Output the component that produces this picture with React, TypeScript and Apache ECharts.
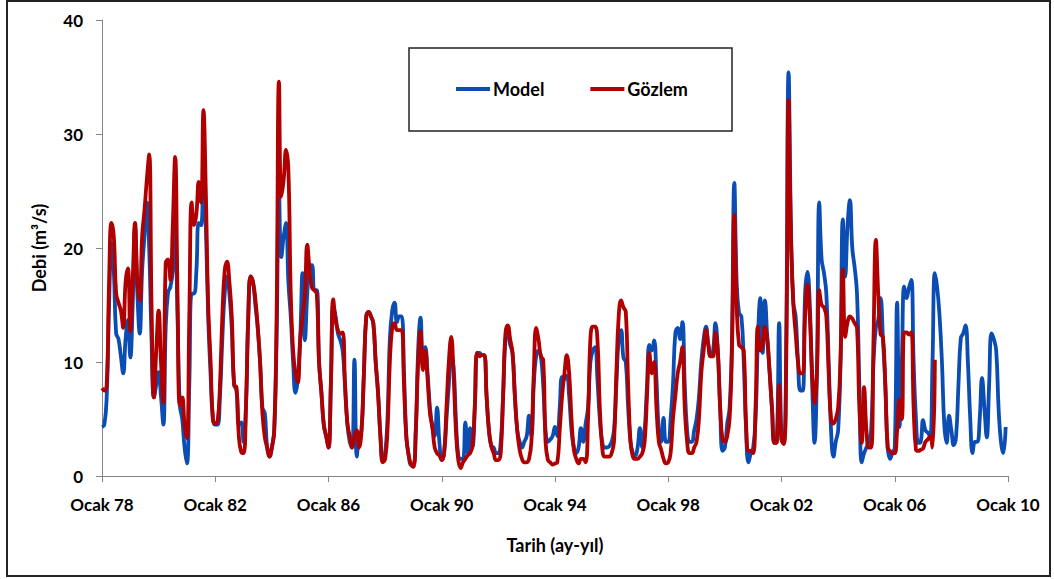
import React, { useEffect, useRef } from "react";
import * as echarts from "echarts";

const tickLabels = ["Ocak 78", "Ocak 82", "Ocak 86", "Ocak 90", "Ocak 94", "Ocak 98", "Ocak 02", "Ocak 06", "Ocak 10"];
const seriesNames = ["Model", "Gözlem"];

// Monthly discharge (m3/s), Jan 1978 onward
const model = [
  4.3, 4.5, 7, 15, 20.4, 18, 12.5, 12, 10.5, 9, 12, 13.7,
  10.4, 15, 21.8, 16, 12.5, 18, 21, 24, 20, 12, 6.9, 8,
  9.1, 7, 4.5, 13, 16.1, 16.6, 18, 21.8, 14, 6.2, 5, 2.5,
  1.1, 8, 16, 16, 18, 22.2, 22, 26.6, 22, 14, 9, 5,
  4.5, 4.5, 7, 12, 16, 17.5, 16, 13, 8, 7.5, 4.5, 4.7,
  3, 6, 14, 17.5, 17, 15, 13, 10, 6, 5.5, 2.5, 1.7,
  2.5, 4, 12, 25, 19.2, 21, 22.2, 17, 14, 10, 7.3, 8.5,
  12, 17.8, 11.9, 16, 18.5, 18.5, 16.3, 16.3, 10, 7.3, 4.5, 3.5,
  2.5, 8, 15, 14, 12.5, 11.9, 11, 8, 4.6, 3, 2.5, 10.2,
  1.7, 3.5, 4, 9, 14, 14.4, 14, 13.4, 10, 7.3, 3.5, 1.5,
  2, 5, 12, 14.5, 15.2, 13.5, 14, 14, 9, 3.4, 1.8, 1.0,
  1, 4, 11, 13.9, 10, 11.3, 9, 6, 4.3, 3.5, 6, 3,
  1.4, 2, 5, 8, 10.5, 9.6, 5, 1.8, 1.5, 1.5, 4.7, 2,
  4.2, 2.5, 6, 10.8, 10.8, 10.6, 10.6, 7, 4, 2.6, 2.5, 2,
  2, 3, 7, 12, 12.5, 11.5, 10.8, 7, 4, 3, 2.5, 3,
  3.5, 5.3, 3.5, 8, 10.5, 11, 10.5, 8, 4, 3, 3.2, 3.5,
  4.3, 3.5, 6, 8.7, 8.5, 8.8, 7, 4, 2.5, 2, 2.5, 4.2,
  3, 4.6, 6, 10, 11, 11.3, 8.4, 5, 3, 2.5, 2.5, 2.6,
  3, 4, 8, 12, 12.8, 10.4, 10, 6, 3, 2, 1.8, 2.5,
  4.2, 2.5, 4, 8, 11.5, 11, 11.9, 8.5, 4, 3, 5.1, 3,
  3, 5, 8, 12.5, 13, 12, 13.5, 8, 4, 3, 3, 4,
  5, 6.9, 10, 12, 13.1, 11.5, 10.5, 11, 13.4, 11, 6, 2.2,
  2.5, 4.6, 6, 12, 25.7, 17, 14.3, 14, 10, 4, 1.2, 2,
  2.5, 5, 12, 15.6, 10.8, 15.4, 12, 9, 5.8, 2.9, 3, 13.4,
  3.2, 3, 12, 35.4, 22, 15.2, 14, 10, 7.5, 7.5, 16, 17.9,
  15, 8, 2.9, 9, 24, 19, 17.8, 16, 10, 4, 1.7, 3,
  4, 10, 22.5, 17.5, 22, 24.2, 20, 18.3, 16, 8, 1.2, 2,
  2.5, 3, 4, 10, 13, 13.7, 15.6, 12, 8, 2.5, 1.5, 2,
  2.5, 15.2, 4.3, 10, 16.6, 15.6, 16.5, 17.2, 10, 5, 2.9, 3,
  4.9, 4, 3.8, 3.5, 10, 17.8, 16.5, 14, 10, 4.5, 2.9, 5.3,
  4, 2.7, 3.5, 8, 12.1, 12.5, 13.2, 10, 5, 2, 3, 3,
  5, 8.6, 6, 3.4, 8, 12.5, 12, 11, 6, 3, 2, 4.3,
];

const observed = [
  7.7, 7.5, 8, 17, 22.2, 21, 16, 15.2, 14.5, 13, 17, 18.2,
  12.7, 17, 22.2, 17, 15.4, 21, 23.3, 26, 28.2, 15, 6.9, 11,
  14.5, 10, 6.4, 18.7, 19, 17.2, 22, 28, 16, 6.2, 6.9, 4.5,
  3.3, 14, 24, 22, 23, 25.8, 24, 32.1, 25, 15, 10.2, 5,
  4.6, 4.8, 8, 14, 18, 18.8, 17, 14, 8, 7.8, 3.5, 2.1,
  2.0, 6, 14, 17.5, 17, 15.5, 13.1, 10, 5.5, 3.4, 2.5, 1.7,
  2.5, 4, 14, 34.6, 24.5, 26, 28.6, 26.8, 16, 11, 9, 8.2,
  12, 14, 16, 20.3, 18, 16.5, 16.3, 16, 10, 7.3, 4.5, 3.5,
  2.5, 8, 15.5, 13.7, 12.8, 12.5, 12.6, 8, 4.6, 3.5, 2.5, 3.5,
  4, 2.5, 4, 9, 14, 14.4, 14, 13.4, 10, 7.3, 3.5, 1.2,
  1.5, 4, 10, 13, 13.4, 12.8, 12.8, 12.8, 8, 3.4, 1.8, 1.0,
  0.8, 4, 10, 12.7, 9.3, 11, 8.5, 5.5, 4.3, 2.5, 2, 1.8,
  1.4, 2, 6, 10, 12.2, 9, 4, 1.4, 0.7, 1.2, 1.5, 1.8,
  2.0, 2.6, 6, 10.8, 10.5, 10.6, 10.6, 7, 4, 2.6, 2.0, 1.4,
  1.4, 2.0, 7, 12.5, 13.2, 12, 10.8, 7, 4, 2.3, 1.5, 1.2,
  1.2, 1.5, 3, 9, 13, 12, 10.5, 10.2, 3, 1.4, 1.2, 1.0,
  1.1, 1.2, 4, 7, 9, 10.6, 9, 5, 2.3, 1.5, 1.1, 1.5,
  1.5, 1.2, 5, 12, 13.1, 13.1, 11.9, 6, 2.5, 1.7, 1.7, 1.7,
  2, 3, 9, 14, 15.4, 14.8, 14.4, 8, 3, 1.7, 1.5, 1.5,
  1.7, 2, 3, 7, 10.8, 9, 10, 6, 3, 2.3, 1.5, 1.1,
  1.2, 2, 5, 7, 9, 10, 11.3, 6, 3, 2.0, 2.0, 2.5,
  3, 5, 9, 11, 12.8, 11.5, 10.5, 10.5, 12.6, 11, 6, 3.2,
  3, 3.5, 5, 11, 22.9, 15, 11.5, 11.3, 11, 4.5, 2.2, 2.2,
  2, 6, 13.1, 11, 11.5, 13.1, 12, 9, 5.8, 2.9, 3, 8.0,
  3.2, 2.8, 10, 33, 21, 15.2, 12.5, 10, 9, 9, 14, 16.8,
  14, 9, 6.4, 9, 16.3, 15, 14.8, 14, 9, 5, 4.6, 5,
  6, 10, 18.1, 12.2, 13.5, 14, 13.8, 13.4, 13, 6, 2.9, 7.8,
  4, 2.5, 2.5, 12, 20.7, 16, 12.4, 12.2, 8, 2.5, 2.2, 2,
  2, 4, 6.7, 5, 12.6, 12.6, 12.4, 12.6, 6, 2.3, 2.2, 2.3,
  2.4, 3, 3.2, 3.5, 2.5, 10.2,
];

const FONT = "Lato, 'Open Sans', sans-serif";

export default function App() {
  const ref = useRef<HTMLDivElement>(null);

  useEffect(() => {
    if (!ref.current) return;
    const chart = echarts.init(ref.current, undefined, { renderer: "svg" });
    const axisColor = "#868686";
    const labelStyle = { fontFamily: FONT, fontWeight: "bold" as const, fontSize: 17, color: "#000" };

    chart.setOption({
      animation: false,
      backgroundColor: "#fff",
      grid: { left: 102, right: 46, top: 20, bottom: 103, containLabel: false },
      graphic: [
        {
          type: "rect",
          z: -10,
          shape: { x: 7, y: 1, width: 1043, height: 575 },
          style: { fill: "none", stroke: "#222", lineWidth: 2 },
        },
        {
          type: "rect",
          z: -5,
          shape: { x: 409, y: 48, width: 323, height: 83 },
          style: { fill: "#fff", stroke: "#222", lineWidth: 1.5 },
        },
      ],
      legend: {
        data: seriesNames,
        left: 456,
        top: 80,
        padding: 0,
        icon: "rect",
        itemWidth: 34,
        itemHeight: 4,
        itemGap: 46,
        textStyle: { fontFamily: FONT, fontWeight: "bold", fontSize: 18, color: "#000", padding: [0, 0, 0, -2] },
      },
      xAxis: {
        type: "value",
        min: 0,
        max: 384,
        interval: 48,
        splitLine: { show: false },
        axisLine: { lineStyle: { color: axisColor, width: 1 } },
        axisTick: { show: true, length: 6, lineStyle: { color: axisColor } },
        axisLabel: {
          ...labelStyle,
          margin: 20,
          formatter: (v: number) => tickLabels[Math.round(v / 48)] ?? "",
        },
        name: "Tarih (ay-yıl)",
        nameLocation: "middle",
        nameGap: 60,
        nameTextStyle: { ...labelStyle, fontSize: 18 },
      },
      yAxis: {
        type: "value",
        min: 0,
        max: 40,
        interval: 10,
        splitLine: { show: false },
        axisLine: { show: true, lineStyle: { color: axisColor, width: 1 } },
        axisTick: { show: true, length: 6, lineStyle: { color: axisColor } },
        axisLabel: { ...labelStyle, margin: 19 },
        name: "Debi (m³/s)",
        nameLocation: "middle",
        nameRotate: 90,
        nameGap: 54,
        nameTextStyle: { ...labelStyle, fontSize: 18 },
      },
      series: [
        {
          name: seriesNames[0],
          type: "line",
          data: model.map((v, i) => [i, v]),
          showSymbol: false,
          smooth: 0.45,
          lineStyle: { color: "#0B4DB3", width: 3.8 },
          itemStyle: { color: "#0B4DB3" },
          z: 2,
        },
        {
          name: seriesNames[1],
          type: "line",
          data: observed.map((v, i) => [i, v]),
          showSymbol: false,
          smooth: 0.45,
          lineStyle: { color: "#B00000", width: 3.8 },
          itemStyle: { color: "#B00000" },
          z: 3,
        },
      ],
    });

    return () => chart.dispose();
  }, []);

  return (
    <div
      ref={ref}
      style={{ position: "fixed", left: 0, top: 0, width: 1054, height: 579, background: "#fff" }}
    />
  );
}
